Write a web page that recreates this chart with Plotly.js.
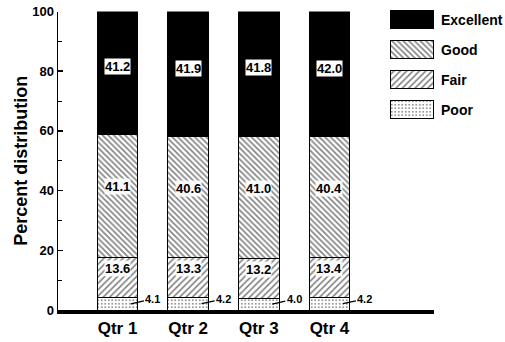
<!DOCTYPE html>
<html>
<head>
<meta charset="utf-8">
<script src="https://cdn.plot.ly/plotly-3.0.1.min.js"></script>
<style>html,body{margin:0;padding:0;background:#fff;}#chart{width:505px;height:342px;}</style>
</head>
<body>
<div id="chart"></div>
<script>
const quarters = ["Qtr 1", "Qtr 2", "Qtr 3", "Qtr 4"];
const poor = [4.1, 4.2, 4.0, 4.2];
const fair = [13.6, 13.3, 13.2, 13.4];
const good = [41.1, 40.6, 41.0, 40.4];
const excellent = [41.2, 41.9, 41.8, 42.0];
const seriesNames = ["Poor", "Fair", "Good", "Excellent"];
const legendOrder = ["Excellent", "Good", "Fair", "Poor"];
const yTicks = [0, 20, 40, 60, 80, 100];

const FONT = "Liberation Sans, Arial, Helvetica, sans-serif";
const styles = {
  Poor: {color: "white", line: {color: "black", width: 1}, pattern: {shape: ".", size: 3.5, solidity: 0.22, fgcolor: "black", bgcolor: "white", fillmode: "overlay"}},
  Fair: {color: "white", line: {color: "black", width: 1}, pattern: {shape: "/", size: 4.5, solidity: 0.35, fgcolor: "black", bgcolor: "white", fillmode: "overlay"}},
  Good: {color: "white", line: {color: "black", width: 1}, pattern: {shape: "\\", size: 4, solidity: 0.38, fgcolor: "black", bgcolor: "white", fillmode: "overlay"}},
  Excellent: {color: "black", line: {color: "black", width: 1}}
};
const seriesData = {Poor: poor, Fair: fair, Good: good, Excellent: excellent};

const traces = [];
seriesNames.forEach(name => {
  traces.push({
    type: "bar", x: quarters, y: seriesData[name], name: name,
    marker: styles[name], width: 0.58, xaxis: "x", yaxis: "y",
    hoverinfo: "skip", showlegend: false
  });
});
legendOrder.forEach(name => {
  traces.push({
    type: "bar", orientation: "h", y: [name], x: [1], name: name,
    marker: styles[name], width: 0.6, xaxis: "x2", yaxis: "y2",
    hoverinfo: "skip", showlegend: false
  });
});

const annotations = [];
const boldFont = (s) => ({family: FONT, size: s, color: "black", weight: "bold"});
quarters.forEach((q, i) => {
  const p = poor[i], f = fair[i], g = good[i], e = excellent[i];
  annotations.push({xref: "x", yref: "y", x: q, y: p + f + g + e / 2, yshift: 6,
    text: e.toFixed(1), showarrow: false, bgcolor: "white", borderpad: 0, font: boldFont(13)});
  annotations.push({xref: "x", yref: "y", x: q, y: p + f + g / 2, yshift: 9,
    text: g.toFixed(1), showarrow: false, bgcolor: "rgba(255,255,255,0.9)", borderpad: 0, font: boldFont(13)});
  annotations.push({xref: "x", yref: "y", x: q, y: p + f / 2, yshift: 9,
    text: f.toFixed(1), showarrow: false, bgcolor: "rgba(255,255,255,0.9)", borderpad: 0, font: boldFont(13)});
  annotations.push({xref: "x", yref: "y", x: i + 0.19, y: p / 2,
    text: p.toFixed(1), showarrow: true, arrowhead: 0, arrowwidth: 1.3, arrowcolor: "black",
    ax: 22, ay: -5, font: boldFont(11)});
});
legendOrder.forEach(name => {
  annotations.push({xref: "x2", yref: "y2", x: 1, y: name, xanchor: "left", xshift: 5,
    text: name, showarrow: false, font: boldFont(14)});
});

const layout = {
  width: 505, height: 342,
  margin: {l: 58, r: 71, t: 0, b: 32},
  paper_bgcolor: "white", plot_bgcolor: "white",
  barmode: "stack",
  showlegend: false,
  font: {family: FONT, color: "black"},
  xaxis: {
    type: "category", categoryarray: quarters, range: [-0.842, 4.479],
    domain: [0, 1], anchor: "y",
    showline: true, linewidth: 4, linecolor: "black",
    ticks: "", showgrid: false, zeroline: false,
    tickfont: {family: FONT, size: 17, weight: "bold", color: "black"}
  },
  yaxis: {
    domain: [0, 0.9629], range: [0, 100], anchor: "x",
    tickvals: yTicks, ticktext: yTicks.map(String),
    ticks: "inside", ticklen: 5, tickwidth: 1.5, tickcolor: "black",
    minor: {ticks: "inside", dtick: 10, ticklen: 4, tickwidth: 1, tickcolor: "black"},
    showline: true, linewidth: 1.5, linecolor: "black",
    showgrid: false, zeroline: false, automargin: false,
    tickfont: {family: FONT, size: 13, weight: "bold", color: "black"},
    title: {text: "Percent distribution", font: {family: FONT, size: 18, weight: "bold", color: "black"}, standoff: 0}
  },
  xaxis2: {domain: [0.883, 1.0], range: [0, 1], anchor: "y2", visible: false, fixedrange: true},
  yaxis2: {domain: [0.5968, 0.9839], type: "category", categoryarray: legendOrder, range: [3.5, -0.5],
    anchor: "x2", visible: false, fixedrange: true},
  annotations: annotations
};

Plotly.newPlot("chart", traces, layout, {displayModeBar: false, staticPlot: true});
</script>
</body>
</html>
